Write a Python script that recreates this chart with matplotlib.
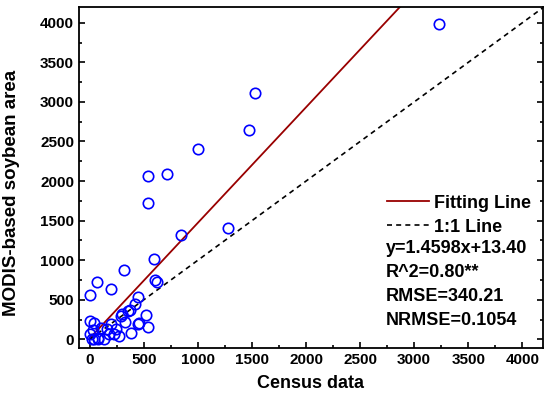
import matplotlib
matplotlib.use("Agg")
import matplotlib.pyplot as plt
import numpy as np
from matplotlib.ticker import MultipleLocator

plt.rcParams["font.family"] = ["Liberation Sans", "DejaVu Sans"]
plt.rcParams["font.weight"] = "bold"
plt.rcParams["axes.labelweight"] = "bold"

# census vs MODIS-based soybean area
census = [3230, 1525, 1470, 1000, 710, 540, 540, 840, 1275, 600, 594, 320,
          65, 619, 197, 0, 446, 418, 372, 351, 299, 289, 520, 329, 458, 449,
          542, 0, 37, 197, 104, 160, 243, 28, 382, 182, 274, 0, 74, 18, 74,
          135, 37, 228]
modis = [3985, 3110, 2645, 2400, 2090, 2065, 1720, 1315, 1405, 745, 1013, 873,
         725, 725, 641, 557, 535, 450, 375, 354, 325, 295, 304, 219, 206, 190,
         156, 232, 206, 190, 148, 135, 135, 114, 80, 63, 38, 72, 22, 0, 0,
         0, 0, 72]

slope = 1.4598
intercept = 13.40
stats_lines = ["y=1.4598x+13.40", "R^2=0.80**", "RMSE=340.21", "NRMSE=0.1054"]

fig = plt.figure(figsize=(5.5, 3.99), dpi=100)
ax = fig.add_axes([0.1436, 0.1278, 0.8434, 0.8547])

fx = np.array([0, 4200])
ax.plot(fx, slope * fx + intercept, color="#990000", lw=1.3, label="Fitting Line")
ax.plot(fx, fx, color="black", lw=1.2, ls=(0, (3, 2.5)), label="1:1 Line")
ax.plot(census, modis, "o", mfc="none", mec="#0000ff", mew=1.2, ms=7.5,
        ls="none")

ax.set_xlim(-100, 4190)
ax.set_ylim(-110, 4200)
ax.xaxis.set_major_locator(MultipleLocator(500))
ax.xaxis.set_minor_locator(MultipleLocator(250))
ax.yaxis.set_major_locator(MultipleLocator(500))
ax.yaxis.set_minor_locator(MultipleLocator(250))
ax.tick_params(which="both", direction="in", right=True, top=False,
               width=1.2, labelsize=11)
ax.tick_params(which="major", length=4)
ax.tick_params(which="minor", length=2.5)
for sp in ax.spines.values():
    sp.set_linewidth(1.3)

ax.set_xlabel("Census data", fontsize=13, fontweight="bold", labelpad=6)
ax.set_ylabel("MODIS-based soybean area", fontsize=13.5, fontweight="bold")
ax.yaxis.set_label_coords(-0.127, 0.455)

ax.legend(loc="upper left", bbox_to_anchor=(0.664, 0.45), frameon=False,
          handlelength=2.3, handletextpad=0.3,
          labelspacing=0.4, borderpad=0, borderaxespad=0,
          prop={"weight": "bold", "size": 13})

for i, s in enumerate(stats_lines):
    ax.text(0.662, 0.293 - i * 0.071, s, transform=ax.transAxes,
            fontsize=13, fontweight="bold", va="center", ha="left")

fig.savefig("out.png", dpi=100)
